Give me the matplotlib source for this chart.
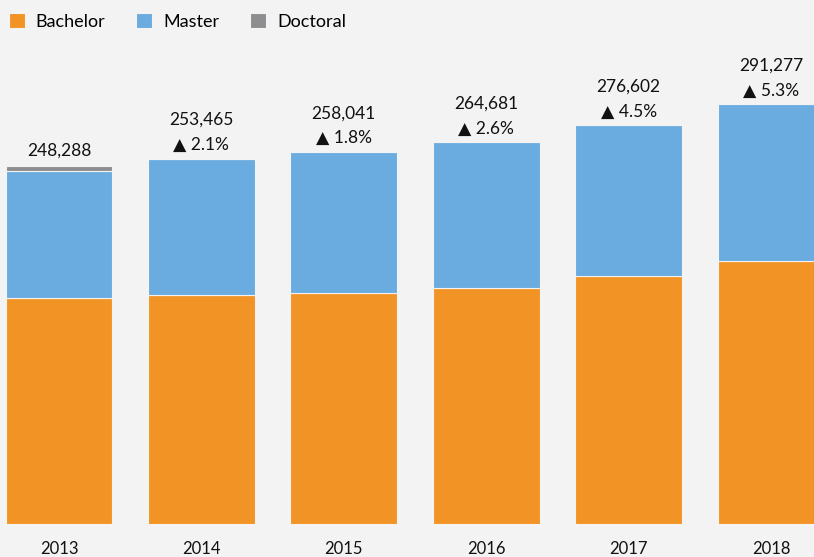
import matplotlib.pyplot as plt
import numpy as np

# Datos
years = ['2013', '2014', '2015', '2016', '2017', '2018']
bachelor = [156700, 158800, 160300, 163700, 172000, 182400]
doctoral = [3500, 0, 0, 0, 0, 0]
totals = [248288, 253465, 258041, 264681, 276602, 291277]
growth = [None, 2.1, 1.8, 2.6, 4.5, 5.3]
master = [t - b - d for t, b, d in zip(totals, bachelor, doctoral)]

c_bach = '#f29325'
c_mast = '#6aacdf'
c_doc = '#8e8e90'
bg = '#f3f3f3'

plt.rcParams['font.family'] = ['Lato', 'DejaVu Sans']

fig = plt.figure(figsize=(8.14, 5.57), dpi=100, facecolor=bg)
ax = fig.add_axes([0, 33 / 557, 1, 524 / 557])
ax.set_facecolor(bg)

x = np.arange(len(years))
w = 0.75
ax.bar(x, bachelor, w, color=c_bach, edgecolor=bg, linewidth=0.8, label='Bachelor')
ax.bar(x, master, w, bottom=bachelor, color=c_mast, edgecolor=bg, linewidth=0.8, label='Master')
ax.bar(x, doctoral, w, bottom=np.array(bachelor) + np.array(master), color=c_doc,
       edgecolor=bg, linewidth=0.8, label='Doctoral')

ax.set_xlim(-59 / 142.4, 755 / 142.4)
ax.set_ylim(0, 524 / 0.001442)

# Etiquetas de totales y crecimiento
for i, t in enumerate(totals):
    if growth[i] is None:
        ax.annotate(f'{t:,}', (x[i], t), xytext=(0, 5), textcoords='offset points',
                    ha='center', va='bottom', fontsize=12.5, color='#111111')
    else:
        ax.annotate(f'▲ {growth[i]}%', (x[i], t), xytext=(0, 4), textcoords='offset points',
                    ha='center', va='bottom', fontsize=12.5, color='#111111')
        ax.annotate(f'{t:,}', (x[i], t), xytext=(0, 22), textcoords='offset points',
                    ha='center', va='bottom', fontsize=12.5, color='#111111')

ax.set_xticks(x)
ax.set_xticklabels(years, fontsize=12, color='#111111')
ax.tick_params(axis='x', length=0, pad=12)
ax.set_yticks([])
for s in ax.spines.values():
    s.set_visible(False)

fig.legend(loc='upper left', bbox_to_anchor=(-0.005, 1.0), ncol=3, frameon=False,
           fontsize=13, handlelength=0.9, handleheight=0.95, handletextpad=0.6,
           columnspacing=1.7, borderaxespad=0.3, borderpad=0.4)

plt.savefig('out.png', dpi=100, facecolor=bg)
